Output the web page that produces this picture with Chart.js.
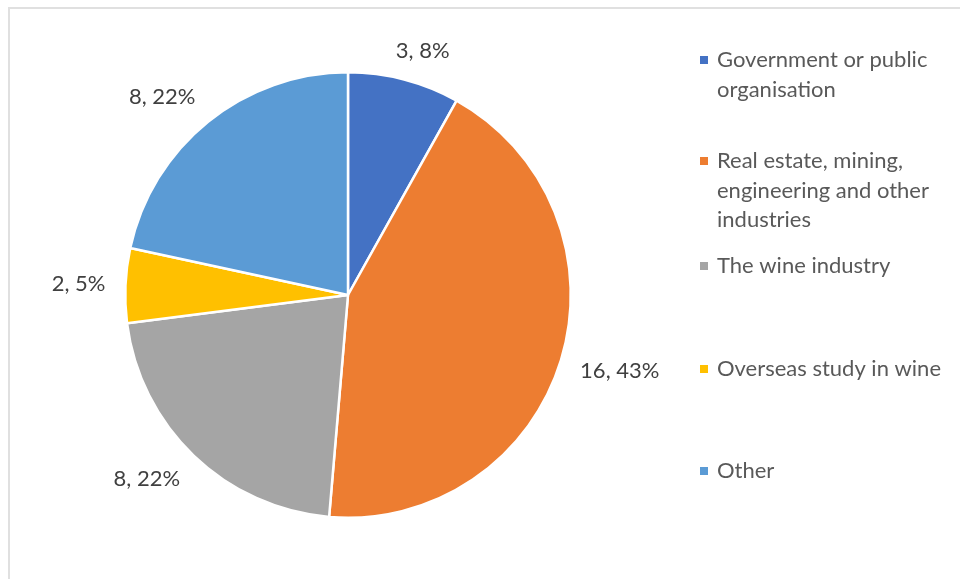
<!DOCTYPE html>
<html>
<head>
<meta charset="utf-8">
<script src="https://cdn.jsdelivr.net/npm/chart.js@4/dist/chart.umd.min.js"></script>
<style>
  html, body { margin: 0; padding: 0; background: #fff; }
  #wrap { position: relative; width: 960px; height: 579px; }
  #frame { position: absolute; left: 8px; top: 7px; right: -4px; bottom: -4px;
           border-left: 2px solid #e0e0e0; border-top: 2px solid #e0e0e0; }
  canvas { position: absolute; left: 0; top: 0; }
</style>
</head>
<body>
<div id="wrap">
  <div id="frame"></div>
  <canvas id="pieChart" width="960" height="579"></canvas>
</div>
<script>
  // Chart data
  const categories = [
    'Government or public organisation',
    'Real estate, mining, engineering and other industries',
    'The wine industry',
    'Overseas study in wine',
    'Other'
  ];
  const counts = [3, 16, 8, 2, 8];
  const sliceColors = ['#4472C4', '#ED7D31', '#A5A5A5', '#FFC000', '#5B9BD5'];

  const FONT = '22px Lato, "Open Sans", sans-serif';

  // Legend layout (first line centre of each item)
  const legendX = 700;
  const legendItemY = [60, 161, 266, 369, 471];
  const legendLineH = 29.5;
  const legendMaxW = 240;

  function wrapText(ctx, text, maxW) {
    const words = text.split(' ');
    const lines = [];
    let line = '';
    words.forEach(w => {
      const test = line ? line + ' ' + w : w;
      if (ctx.measureText(test).width > maxW && line) {
        lines.push(line);
        line = w;
      } else {
        line = test;
      }
    });
    if (line) lines.push(line);
    return lines;
  }

  // Labels outside the slices: "value, percent"
  const outsideLabels = {
    id: 'outsideLabels',
    afterDatasetsDraw(chart) {
      const ctx = chart.ctx;
      const meta = chart.getDatasetMeta(0);
      const total = counts.reduce((a, b) => a + b, 0);
      ctx.save();
      ctx.font = FONT;
      ctx.fillStyle = '#404040';
      ctx.textAlign = 'center';
      ctx.textBaseline = 'middle';
      meta.data.forEach((arc, i) => {
        const mid = (arc.startAngle + arc.endAngle) / 2;
        const cos = Math.cos(mid), sin = Math.sin(mid);
        const r = arc.outerRadius + 20;
        const px = arc.x + cos * r;
        const py = arc.y + sin * r;
        const text = counts[i] + ', ' + Math.round(counts[i] / total * 100) + '%';
        const w = ctx.measureText(text).width;
        const h = 18;
        const clamp = v => Math.max(-1, Math.min(1, v));
        ctx.fillText(text, px + clamp(cos * 2) * w / 2, py + clamp(sin * 2) * h / 2);
      });
      ctx.restore();
    }
  };

  // Legend on the right with wrapped text
  const sideLegend = {
    id: 'sideLegend',
    afterDraw(chart) {
      const ctx = chart.ctx;
      ctx.save();
      ctx.font = FONT;
      ctx.textAlign = 'left';
      ctx.textBaseline = 'middle';
      categories.forEach((cat, i) => {
        const y0 = legendItemY[i];
        ctx.fillStyle = sliceColors[i];
        ctx.fillRect(legendX, y0 - 4, 8, 8);
        ctx.fillStyle = '#595959';
        wrapText(ctx, cat, legendMaxW).forEach((ln, j) => {
          ctx.fillText(ln, legendX + 17, y0 + j * legendLineH);
        });
      });
      ctx.restore();
    }
  };

  const ctx = document.getElementById('pieChart').getContext('2d');
  const pieChart = new Chart(ctx, {
    type: 'pie',
    data: {
      labels: categories,
      datasets: [{
        data: counts,
        backgroundColor: sliceColors,
        borderColor: '#ffffff',
        borderWidth: 2.5
      }]
    },
    options: {
      responsive: false,
      animation: false,
      layout: {
        padding: { left: 124, right: 388, top: 71, bottom: 60 }
      },
      plugins: {
        legend: { display: false },
        tooltip: { enabled: false }
      }
    },
    plugins: [outsideLabels, sideLegend]
  });
</script>
</body>
</html>
